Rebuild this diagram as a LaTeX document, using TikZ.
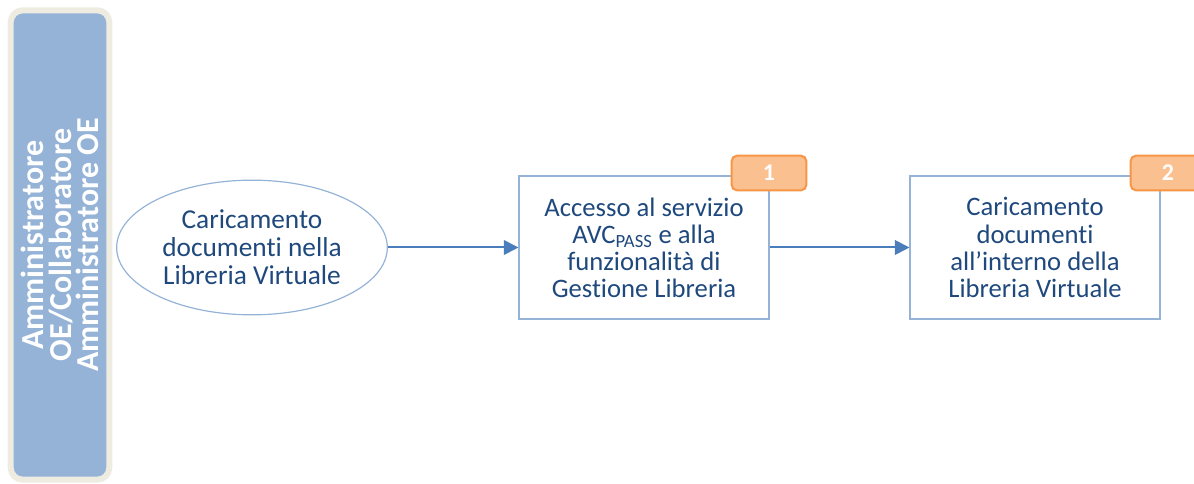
\documentclass[tikz,border=0pt]{standalone}
\usepackage{fontspec}
\setmainfont{Carlito}[Ligatures=CommonOff]
\usetikzlibrary{shapes.geometric, arrows.meta, positioning, calc}
\definecolor{laneblue}{HTML}{95B3D7}
\definecolor{lanebeige}{HTML}{EEECE1}
\definecolor{boxline}{HTML}{95B3D7}
\definecolor{txtblue}{HTML}{1F497D}
\definecolor{arrblue}{HTML}{4A7EBB}
\definecolor{badgefill}{HTML}{FAC090}
\definecolor{badgeline}{HTML}{F79646}

\begin{document}
\begin{tikzpicture}[x=0.75pt, y=-0.75pt,
      lane/.style={draw=lanebeige, line width=4.5pt, fill=laneblue,
                   rounded corners=9pt, minimum width=74pt, minimum height=352pt,
                   inner sep=0pt},
      lanetext/.style={rotate=90, text=white, font=\fontsize{24}{20.5}\selectfont\bfseries,
                       align=center},
      start/.style={draw=boxline, ellipse, line width=0.9pt,
                    minimum width=203pt, minimum height=101pt, inner sep=0pt,
                    align=center, text=txtblue, font=\fontsize{20.5}{21}\selectfont},
      box/.style={draw=boxline, rectangle, line width=1.3pt,
                  minimum width=187pt, minimum height=107pt, inner sep=0pt,
                  align=center, text=txtblue, font=\fontsize{20}{20.3}\selectfont},
      badge/.style={draw=badgeline, fill=badgefill, rectangle, rounded corners=4pt,
                    line width=1.5pt, minimum width=56pt, minimum height=26pt,
                    inner sep=0pt, text=white, font=\fontsize{18}{20}\selectfont\bfseries},
      arr/.style={-{Triangle[length=11pt, width=11pt]}, draw=arrblue, line width=1.5pt}
    ]
    \useasboundingbox (0,0) rectangle (1194,484);
    \clip (0,0) rectangle (1194,484);

    \node[lane] (lane) at (60,245) {};
    \node[lanetext] (role) at (60,245)
      {Amministratore\\OE/Collaboratore\\Amministratore OE};

    \node[start] (upload) at (252,247.5) {Caricamento\\documenti nella\\Libreria Virtuale};
    \node[box]   (access) at (644,247.5)
      {Accesso al servizio\\AVC\textsubscript{PASS} e alla\\funzionalità di\\Gestione Libreria};
    \node[box]   (load)   at (1035,247.5)
      {Caricamento\\documenti\\all’interno della\\Libreria Virtuale};

    \node[badge] (b1) at (769,173) {1};
    \node[badge] (b2) at (1168,173) {2};

    \draw[arr] (upload) -- (access);
    \draw[arr] (access) -- (load);
  \end{tikzpicture}
\end{document}
